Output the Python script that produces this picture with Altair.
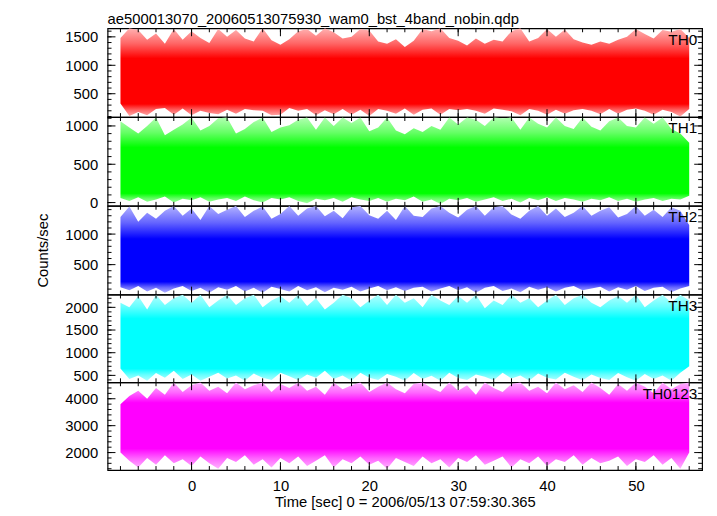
import altair as alt
import pandas as pd
import math

FONT = "Liberation Sans"

# time (s) of each 1-second envelope sample
time_s = list(range(-8, 57))

# upper / lower envelope of each light curve, read per second from the picture
th0_hi = [1480,1650,1620,1450,1560,1380,1640,1450,1600,1480,
          1390,1640,1500,1620,1470,1420,1650,1440,1360,1460,
          1600,1640,1520,1650,1580,1470,1500,1640,1610,1420,
          1380,1460,1320,1430,1640,1600,1650,1480,1430,1350,
          1470,1380,1450,1420,1600,1650,1420,1480,1640,1500,
          1630,1460,1400,1360,1420,1380,1450,1500,1640,1550,
          1470,1620,1590,1640,1480]
th0_lo = [330,110,180,120,230,250,130,240,120,200,
          160,140,220,150,230,210,200,120,130,250,
          200,230,120,210,140,230,130,220,110,230,
          200,150,240,130,220,240,130,230,210,230,
          200,150,240,220,190,120,230,200,130,220,
          150,210,230,200,140,230,150,220,240,200,
          130,220,180,100,230]

th1_hi = [1060,980,900,1000,1110,880,950,1020,1110,940,
          1000,1100,1110,900,960,1050,1110,920,980,1010,
          1080,1110,950,1110,1000,1110,1040,1110,930,980,
          1110,940,890,970,920,1000,950,1110,1020,1110,
          1080,1000,1110,1100,1110,950,1110,1030,980,1110,
          1000,960,1110,990,940,1060,1110,1000,980,1110,
          1030,1110,960,900,780]
th1_lo = [60,20,70,10,40,80,0,50,30,70,
          10,40,60,20,80,30,0,60,40,70,
          20,-10,50,30,60,10,70,40,20,60,
          10,50,30,80,10,40,-20,50,30,60,
          10,40,70,20,50,0,60,30,70,20,
          60,40,10,50,30,70,20,50,10,40,
          60,20,50,40,90]

th2_hi = [1280,1450,1200,1350,1250,1380,1460,1300,1420,1230,
          1460,1330,1400,1460,1280,1380,1450,1250,1330,1460,
          1300,1420,1460,1290,1380,1260,1440,1460,1310,1250,
          1380,1230,1460,1300,1280,1420,1460,1350,1270,1400,
          1460,1300,1440,1460,1320,1250,1380,1460,1300,1420,
          1280,1350,1460,1300,1380,1440,1270,1330,1460,1300,
          1400,1280,1440,1380,1150]
th2_lo = [130,80,150,60,120,40,110,150,70,120,
          40,130,90,150,60,120,40,140,100,60,
          150,80,130,50,120,90,140,60,110,150,
          80,130,70,120,140,60,110,150,80,130,
          40,120,150,70,110,50,140,90,130,60,
          120,150,80,110,140,60,130,90,150,70,
          120,140,50,110,150]

th3_hi = [2100,2000,2250,1950,2280,2050,2200,2280,2100,2280,
          2000,2150,2280,2050,2200,2280,2000,2150,2250,2100,
          2280,2030,2200,1950,2100,2280,2200,2000,2150,2280,
          2050,2280,2100,2200,2000,2280,2150,2050,2250,2100,
          2280,1980,2150,2050,2280,2100,2200,2000,2150,2280,
          2050,2200,2280,2100,2000,2150,2250,2100,2280,2000,
          2150,2280,2100,2280,2150]
th3_lo = [650,420,500,380,550,450,600,420,520,380,
          470,560,430,500,380,540,450,400,560,480,
          390,520,450,600,420,500,380,560,450,400,
          530,470,380,550,420,490,380,560,440,400,
          520,470,390,560,430,500,380,540,450,410,
          560,470,390,520,440,400,550,460,380,530,
          420,500,380,560,700]

th0123_hi = [3800,4100,4300,4000,4400,4150,4600,4250,4500,4600,
             4300,4450,4200,4600,4350,4500,4600,4250,4550,4400,
             4600,4300,4450,4150,4600,4350,4500,4600,4250,4450,
             4600,4350,4200,4550,4600,4400,4250,4600,4300,4500,
             4150,4600,4400,4250,4550,4600,4300,4450,4200,4600,
             4350,4500,4250,4600,4400,4150,4550,4300,4600,4450,
             4200,4600,4350,4550,4600]
th0123_lo = [2000,1700,1450,1800,1550,1900,1600,1750,1500,1850,
             1600,1400,1800,1650,1900,1550,1750,1450,1800,1600,
             1850,1500,1700,1900,1450,1750,1600,1850,1550,1700,
             1400,1800,1650,1500,1850,1600,1750,1450,1800,1650,
             1900,1550,1700,1850,1450,1750,1600,1850,1500,1750,
             1650,1900,1550,1800,1600,1700,1850,1500,1750,1650,
             1900,1550,1800,1400,2000]

panel_names = ["TH0", "TH1", "TH2", "TH3", "TH0123"]
his = [th0_hi, th1_hi, th2_hi, th3_hi, th0123_hi]
los = [th0_lo, th1_lo, th2_lo, th3_lo, th0123_lo]
colors = ["#ff0000", "#00ff00", "#0000ff", "#00ffff", "#ff00ff"]
y_domains = [[90, 1650], [-42, 1116], [11, 1463], [348, 2283], [1352, 4612]]
y_major = [[500, 1000, 1500], [0, 500, 1000], [500, 1000],
           [500, 1000, 1500, 2000], [2000, 3000, 4000]]
y_minor_step = [100, 100, 100, 100, 200]
core_band = [[320, 1120], [120, 720], [220, 920], [650, 1750], [2150, 3850]]
heights = [90, 90, 90, 89, 89]
W = 603
x_domain = [-9.45, 57.45]
x_major = [0, 10, 20, 30, 40, 50]
x_minor = list(range(-8, 57, 2))

title_text = "ae500013070_20060513075930_wam0_bst_4band_nobin.qdp"
x_title = "Time [sec] 0 = 2006/05/13 07:59:30.365"
y_title = "Counts/sec"


def mix(hexc, a):
    r, g, b = int(hexc[1:3], 16), int(hexc[3:5], 16), int(hexc[5:7], 16)
    return "#%02x%02x%02x" % tuple(round(255 * (1 - a) + c * a) for c in (r, g, b))


def gradient(color, hi, lo, core):
    top, bot = max(hi), min(lo)
    span = top - bot
    off = lambda v: min(1, max(0, (top - v) / span))
    clo, chi = core
    stops = [
        (0.0, mix(color, 0.3)),
        (off(chi + 0.5 * (top - chi)), mix(color, 0.6)),
        (off(chi), color),
        (off(clo), color),
        (off(clo - 0.5 * (clo - bot)), mix(color, 0.6)),
        (1.0, mix(color, 0.3)),
    ]
    return alt.Gradient(gradient="linear", x1=0, x2=0, y1=0, y2=1,
                        stops=[alt.GradientStop(color=c, offset=o) for o, c in stops])


def panel(i):
    H = heights[i]
    df = pd.DataFrame({"t": time_s, "hi": his[i], "lo": los[i]})
    xs = alt.Scale(domain=x_domain, nice=False, zero=False)
    ys = alt.Scale(domain=y_domains[i], nice=False, zero=False)
    last = i == len(panel_names) - 1

    if last:
        xaxis = alt.Axis(values=x_major, ticks=False, domain=False, grid=False,
                         labelPadding=9, title=x_title, titlePadding=1, format="d")
    else:
        xaxis = alt.Axis(values=x_major, ticks=False, domain=False, grid=False,
                         labels=False, title=None)
    ykw = dict(values=y_major[i], ticks=False, domain=False, grid=False,
               labelPadding=10, format="d")
    if i == 2:
        ykw["title"] = y_title
        ykw["titlePadding"] = 15
    else:
        ykw["title"] = None
    yaxis = alt.Axis(**ykw)

    area = alt.Chart(df).mark_area(
        color=gradient(colors[i], his[i], los[i], core_band[i]), clip=True
    ).encode(
        x=alt.X("t:Q", scale=xs, axis=xaxis),
        y=alt.Y("hi:Q", scale=ys, axis=yaxis),
        y2="lo:Q",
    )

    step = y_minor_step[i]
    start = int(math.ceil(y_domains[i][0] / step) * step)
    ymin_df = pd.DataFrame({"hi": list(range(start, y_domains[i][1] + 1, step))})
    ymaj_df = pd.DataFrame({"hi": y_major[i]})
    xmaj_df = pd.DataFrame({"t": x_major})
    xmin_df = pd.DataFrame({"t": x_minor})

    def ytick(d, x0, x1):
        return alt.Chart(d).mark_rule(color="black", strokeWidth=1).encode(
            y=alt.Y("hi:Q", scale=ys, axis=yaxis), x=alt.value(x0), x2=alt.value(x1))

    def xtick(d, y0, y1):
        return alt.Chart(d).mark_rule(color="black", strokeWidth=1).encode(
            x=alt.X("t:Q", scale=xs, axis=xaxis), y=alt.value(y0), y2=alt.value(y1))

    ticks = [
        ytick(ymaj_df, 0, 8), ytick(ymin_df, 0, 4),
        ytick(ymaj_df, W, W - 8), ytick(ymin_df, W, W - 4),
        xtick(xmaj_df, 0, 8), xtick(xmin_df, 0, 4),
        xtick(xmaj_df, H, H - 8), xtick(xmin_df, H, H - 4),
    ]

    label = alt.Chart(pd.DataFrame({"name": [panel_names[i]]})).mark_text(
        align="right", baseline="alphabetic", font=FONT, fontSize=15.5, color="black"
    ).encode(text="name:N", x=alt.value(W - 5), y=alt.value(16.5))

    return alt.layer(area, *ticks, label).properties(width=W, height=H)


chart = alt.vconcat(*[panel(i) for i in range(len(panel_names))], spacing=0,
                    bounds="flush").properties(
    title=alt.TitleParams(text=title_text, anchor="start", frame="group", font=FONT,
                          fontSize=15, fontWeight="normal", color="black", offset=0),
    padding={"left": 27, "top": 0, "right": 5, "bottom": 0},
).configure_view(
    stroke="black", strokeWidth=1.2
).configure_axis(
    labelFont=FONT, titleFont=FONT, labelFontSize=15, titleFontSize=15,
    labelColor="black", titleColor="black", titleFontWeight="normal",
).configure_concat(spacing=0)

chart.save("out.html", embed_options={"renderer": "svg", "actions": False})
